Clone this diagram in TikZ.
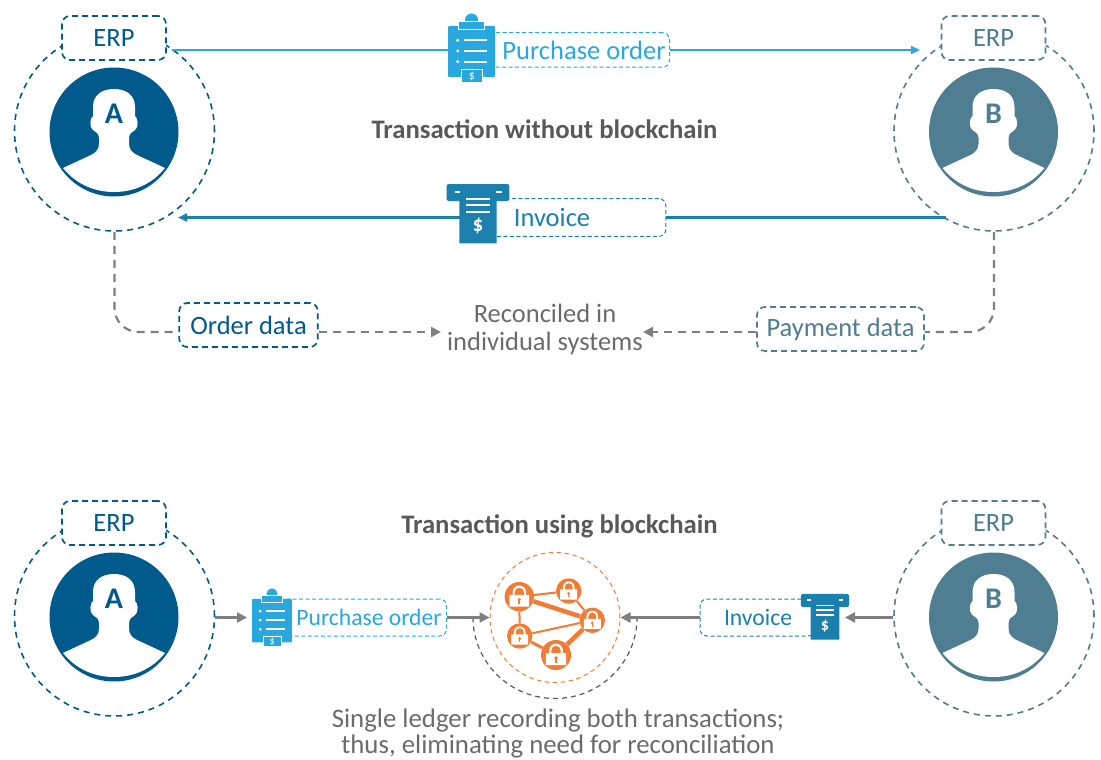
\documentclass[tikz,border=0pt]{standalone}
\usepackage{fontspec}
\setmainfont{Carlito}
\usetikzlibrary{arrows.meta,calc}
\definecolor{cA}{HTML}{005B8C}
\definecolor{cB}{HTML}{4F7D92}
\definecolor{cPO}{HTML}{29A8E0}
\definecolor{cInv}{HTML}{1B80AE}
\definecolor{cOr}{HTML}{F47B34}
\definecolor{cGr}{HTML}{7F7F7F}
\definecolor{cTx}{HTML}{6B6B6B}
\definecolor{cTi}{HTML}{595959}
\tikzset{
  x=1pt,y=-1pt,
  bigtext/.style={font=\fontsize{26.5}{27}\selectfont},
  midtext/.style={font=\fontsize{23.6}{26}\selectfont},
  ringline/.style={draw=#1,line width=1.6pt,dash pattern=on 6pt off 5pt},
  labelbox/.style={draw=#1,text=#1,fill=white,rounded corners=7pt,inner sep=0pt,line width=1pt,dash pattern=on 4pt off 2.5pt,minimum height=37pt},
  databox/.style={draw=#1,text=#1,fill=white,rounded corners=8pt,inner sep=0pt,line width=1.7pt,dash pattern=on 6pt off 4pt,bigtext},
  flow/.style={draw=#1,line width=2.2pt,-{Triangle[length=9pt,width=8pt]}},
  flowplain/.style={draw=#1,line width=2.2pt},
  greyflow/.style={draw=cGr,line width=2.4pt,-{Triangle[length=10pt,width=10pt]}},
  greydash/.style={draw=cGr,line width=2.2pt,dash pattern=on 8pt off 6pt,rounded corners=24pt},
  lockball/.style={circle,fill=cOr,inner sep=0pt,minimum size=#1},
  lockbar/.style={draw=cOr,line width=#1},
  title/.style={font=\fontsize{26.7}{27}\selectfont\bfseries,text=cTi},
  bodytext/.style={text=cTx,align=center,inner sep=0pt},
}
\newcommand{\person}[5]{%
  \node[circle,ringline=#4,minimum size=200pt,inner sep=0pt] (outer#1) at (#2+.5,#3-1) {};
  \fill[#4] (#2,#3) circle (64.5);
  \fill[white] (#2,#3-43) .. controls (#2+12,#3-43) and (#2+21,#3-37) .. (#2+21,#3-25)
    -- (#2+21,#3-16)
    .. controls (#2+24,#3-14) and (#2+24.5,#3-6) .. (#2+22,#3-3)
    .. controls (#2+20,#3) and (#2+15,#3) .. (#2+15,#3+6)
    -- (#2+15,#3+12) .. controls (#2+15,#3+18) and (#2+19,#3+21) .. (#2+23,#3+23)
    -- (#2+51,#3+36) .. controls (#2+38,#3+52) and (#2+20,#3+60) .. (#2,#3+60)
    .. controls (#2-20,#3+60) and (#2-38,#3+52) .. (#2-51,#3+36)
    -- (#2-23,#3+23) .. controls (#2-19,#3+21) and (#2-15,#3+18) .. (#2-15,#3+12)
    -- (#2-15,#3+6) .. controls (#2-15,#3) and (#2-20,#3) .. (#2-22,#3-3)
    .. controls (#2-24.5,#3-6) and (#2-24,#3-14) .. (#2-21,#3-16)
    -- (#2-21,#3-25)
    .. controls (#2-21,#3-37) and (#2-12,#3-43) .. (#2,#3-43) -- cycle;
  \node[text=#4,inner sep=0pt,font=\fontsize{30}{30}\selectfont\bfseries] (letter#1) at (#2,#3-18) {#5};
  \node[databox=#4,minimum width=104pt,minimum height=44pt] (erp#1) at (#2,#3-94) {ERP};
}
\newcommand{\poicon}[3]{%
  \begin{scope}[shift={(#1,#2)},scale=#3]
    \fill[cPO,rounded corners=1pt] (-23.5,-23) rectangle (23.5,28);
    \fill[cPO] (0,-29) circle (6.5);
    \filldraw[fill=cPO,draw=white,line width=.8pt] (-12.8,-27.5) rectangle (12.8,-19.5);
    \fill[cPO] (-11,-27) rectangle (11,-21);
    \foreach \yy in {-8.7,2,12.7}{
      \draw[white,line width=1.7pt] (-7.5,\yy) -- (15.5,\yy);
      \fill[white] (-13.8,\yy) circle (1.7);
    }
    \filldraw[fill=cPO,draw=white,line width=1pt] (-10,21) rectangle (11,33.5);
    \node[text=white,inner sep=0pt,transform shape,font=\fontsize{12}{12}\selectfont] at (.3,27.5) {\$};
  \end{scope}
}
\newcommand{\invicon}[3]{%
  \begin{scope}[shift={(#1,#2)},scale=#3]
    \fill[cInv,rounded corners=1.5pt] (-31.3,-33) rectangle (31.3,-16);
    \fill[cInv,rounded corners=.5pt] (-18.7,-18) rectangle (18.7,26.3);
    \foreach \yy in {-18,-12,-5.3}{\draw[white,line width=1.9pt] (-12,\yy) -- (12,\yy);}
    \draw[white,line width=1.9pt] (-23,-24.7) -- (-18,-24.7) (18,-24.7) -- (23.5,-24.7);
    \node[text=white,inner sep=0pt,transform shape,font=\fontsize{21}{21}\selectfont\bfseries] at (0,9) {\$};
  \end{scope}
}
\newcommand{\lockglyph}[4]{%
  \node[lockball=2*#4 pt] (#1) at (#2,#3) {};
}
\newcommand{\lockface}[3]{%
  \begin{scope}[shift={(#1,#2)},scale=#3]
    \fill[white] (-.46,-.08) -- (-.46,-.3) arc[start angle=180,end angle=0,x radius=.46,y radius=-.46] -- (.46,-.08) -- cycle;
    \fill[cOr] (-.31,-.08) -- (-.31,-.3) arc[start angle=180,end angle=0,x radius=.31,y radius=-.31] -- (.31,-.08) -- cycle;
    \fill[white,rounded corners=.4pt] (-.67,-.12) rectangle (.67,.68);
    \fill[cOr] (0,.2) circle (.12);
    \fill[cOr] (-.055,.2) rectangle (.055,.5);
  \end{scope}
}
\begin{document}
\begin{tikzpicture}
\useasboundingbox (0,0) rectangle (1101,760);

% --- top panel ---
\person{A}{114}{132}{cA}{A}
\person{B}{993.5}{132}{cB}{B}
\node[title,inner sep=0pt] (titleTop) at (544.5,129.5) {Transaction without blockchain};

\node[labelbox=cPO,bigtext,minimum height=34.5pt] (poTop) at (574.5,50) {\kern23pt Purchase order\kern4pt};
\coordinate (poEnd) at (920,50);
\draw[flowplain=cPO] (outerA.55 |- poTop) -- (poTop.west);
\draw[flow=cPO] (poTop.east) -- (poEnd);
\poicon{471.5}{49}{1}

\node[labelbox=cInv,bigtext,minimum height=37.7pt] (invTop) at (572.85,217.5) {\kern34pt Invoice\kern75.7pt};
\coordinate (invEnd) at (178,217.5);
\coordinate (invStart) at (946,217.5);
\draw[flowplain=cInv] (invStart) -- (invTop.east);
\draw[flow=cInv] (invTop.west) -- (invEnd);
\invicon{478}{217}{1}

\node[databox=cA,minimum width=138.5pt,minimum height=44pt] (orderLbl) at (248.5,325) {Order data};
\node[databox=cB,minimum width=167pt,minimum height=44pt] (payLbl) at (840.5,329) {Payment data};
\node[bodytext,font=\fontsize{26.5}{27.2}\selectfont] (recon) at (545,329.5) {Reconciled in\\individual systems};
\coordinate (reconL) at (441,332);
\coordinate (reconR) at (643,332);
\draw[greydash] (outerA.south) |- (orderLbl.west |- reconL);
\draw[greydash] (outerB.south) |- (payLbl.east |- reconR);
\draw[greydash,-{Triangle[length=10pt,width=10pt]}] (orderLbl.east |- reconL) -- (reconL);
\draw[greydash,-{Triangle[length=10pt,width=10pt]}] (payLbl.west |- reconR) -- (reconR);

% --- bottom panel ---
\person{C}{114}{617}{cA}{A}
\person{D}{993.5}{617}{cB}{B}
\node[title,inner sep=0pt] (titleBot) at (559.5,526.5) {Transaction using blockchain};

\node[circle,draw=cOr,line width=1pt,dash pattern=on 4.5pt off 3.5pt,minimum size=130pt,inner sep=0pt] (ledger) at (555,617.5) {};
\coordinate (arcL) at (473,617.5);
\draw[draw=cTi,line width=1.2pt,dash pattern=on 5pt off 4pt] (arcL) arc[start angle=180,end angle=360,x radius=82,y radius=-81];

\node[labelbox=cPO,midtext] (poBot) at (361,617.5) {\kern21pt Purchase order\kern5pt};
\node[labelbox=cInv,midtext] (invBot) at (757.5,617.5) {\kern24pt Invoice\kern23pt};
\coordinate (toPO) at (247,617.5);
\coordinate (toInv) at (845,617.5);
\draw[greyflow] (outerC.east |- toPO) -- (toPO);
\draw[greyflow] (outerD.west |- toInv) -- (toInv);
\draw[greyflow] (poBot.east) -- (ledger.west);
\draw[greyflow] (invBot.west) -- (ledger.east);
\poicon{272}{618.5}{.85}
\invicon{825}{619.4}{.77}

\lockglyph{lockA}{519.3}{596.7}{14.7}
\lockglyph{lockB}{568.7}{591}{12.7}
\lockglyph{lockC}{592.3}{620.3}{12.7}
\lockglyph{lockD}{519.7}{636}{12.7}
\lockglyph{lockE}{556}{655}{15}
\draw[lockbar=2pt] (lockA) -- (lockB);
\draw[lockbar=4.5pt] (lockA) -- (lockC);
\draw[lockbar=2pt] (lockB) -- (lockC);
\draw[lockbar=2pt] (lockA) -- (lockD);
\draw[lockbar=2pt] (lockD) -- (lockC);
\draw[lockbar=3pt] (lockD) -- (lockE);
\draw[lockbar=4.5pt] (lockE) -- (lockC);
\lockface{519.3}{596.7}{14.7}
\lockface{568.7}{591}{12.7}
\lockface{592.3}{620.3}{12.7}
\lockface{519.7}{636}{12.7}
\lockface{556}{655}{15}

\node[bodytext,font=\fontsize{26.8}{26}\selectfont] (ledgerText) at (558,733.5) {Single ledger recording both transactions;\\thus, eliminating need for reconciliation};
\end{tikzpicture}
\end{document}
